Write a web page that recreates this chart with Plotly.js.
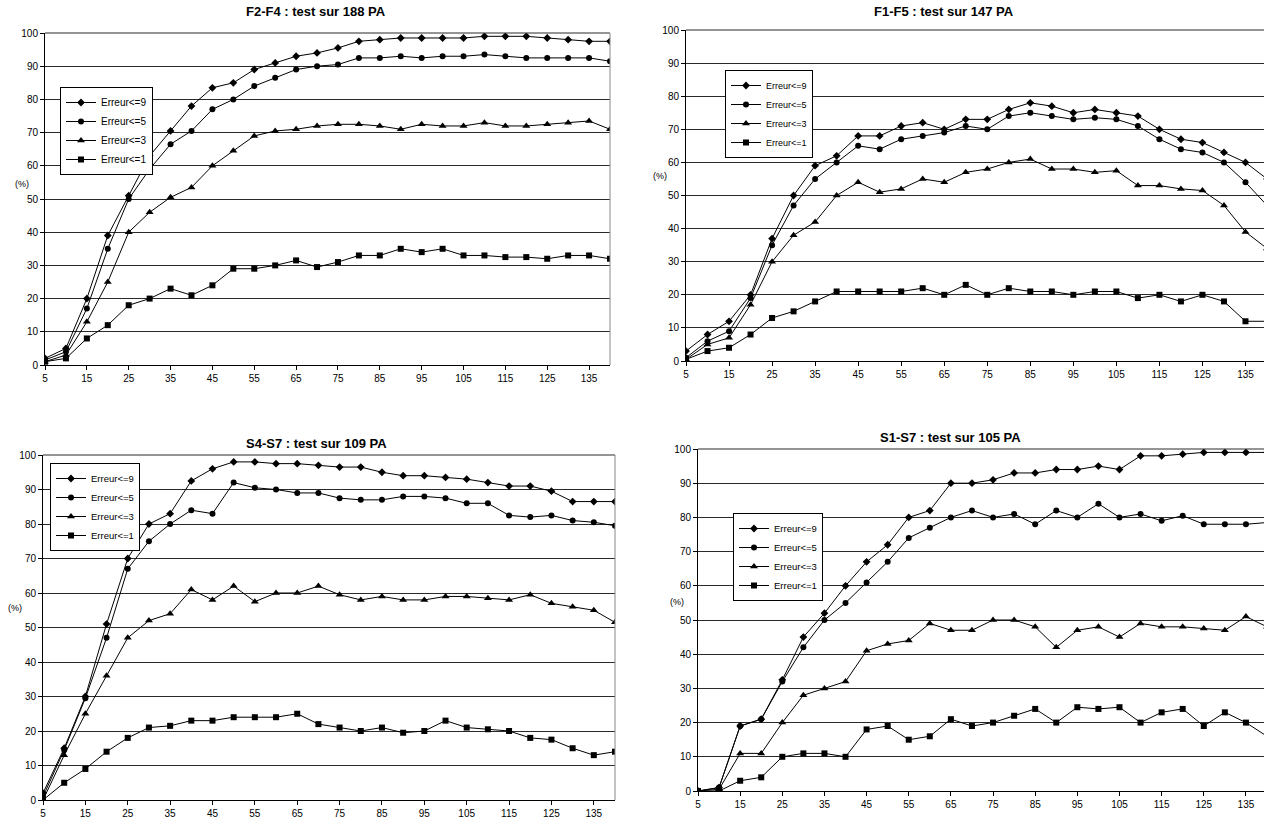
<!DOCTYPE html>
<html>
<head>
<meta charset="utf-8">
<script src="https://cdn.plot.ly/plotly-3.0.1.min.js"></script>
<style>
html,body{margin:0;padding:0;background:#fff;overflow:hidden;}
#chart{width:1290px;height:825px;}
</style>
</head>
<body>
<div id="chart"></div>
<script>
// ---------- data ----------
const X = [5,10,15,20,25,30,35,40,45,50,55,60,65,70,75,80,85,90,95,100,105,110,115,120,125,130,135,140];
const tickVals = [5,15,25,35,45,55,65,75,85,95,105,115,125,135];
const seriesNames = ['Erreur<=9','Erreur<=5','Erreur<=3','Erreur<=1'];
const titles = ['F2-F4 : test sur 188 PA','F1-F5 : test sur 147 PA','S4-S7 : test sur 109 PA','S1-S7 : test sur 105 PA'];

// F2-F4
const f24_e9 = [2,5,20,39,51,63,70.5,78,83.5,85,89,91,93,94,95.5,97.5,98,98.5,98.5,98.5,98.5,99,99,99,98.5,98,97.5,97.5];
const f24_e5 = [1.5,4,17,35,50,59,66.5,70.5,77,80,84,86.5,89,90,90.5,92.5,92.5,93,92.5,93,93,93.5,93,92.5,92.5,92.5,92.5,91.5];
const f24_e3 = [1,3,13,25,40,46,50.5,53.5,60,64.5,69,70.5,71,72,72.5,72.5,72,71,72.5,72,72,73,72,72,72.5,73,73.5,71];
const f24_e1 = [1,2,8,12,18,20,23,21,24,29,29,30,31.5,29.5,31,33,33,35,34,35,33,33,32.5,32.5,32,33,33,32];
// F1-F5
const f15_e9 = [3,8,12,20,37,50,59,62,68,68,71,72,70,73,73,76,78,77,75,76,75,74,70,67,66,63,60,55];
const f15_e5 = [1,6,9,19,35,47,55,60,65,64,67,68,69,71,70,74,75,74,73,73.5,73,71,67,64,63,60,54,47];
const f15_e3 = [0.5,5,7,17,30,38,42,50,54,51,52,55,54,57,58,60,61,58,58,57,57.5,53,53,52,51.5,47,39,34];
const f15_e1 = [0.5,3,4,8,13,15,18,21,21,21,21,22,20,23,20,22,21,21,20,21,21,19,20,18,20,18,12,12];
// S4-S7
const s47_e9 = [2,15,30,51,70,80,83,92.5,96,98,98,97.5,97.5,97,96.5,96.5,95,94,94,93.5,93,92,91,91,89.5,86.5,86.5,86.5];
const s47_e5 = [1,14.5,29.5,47,67,75,80,84,83,92,90.5,90,89,89,87.5,87,87,88,88,87.5,86,86,82.5,82,82.5,81,80.5,79.5];
const s47_e3 = [0,13,25,36,47,52,54,61,58,62,57.5,60,60,62,59.5,58,59,58,58,59,59,58.5,58,59.5,57,56,55,51.5];
const s47_e1 = [0,5,9,14,18,21,21.5,23,23,24,24,24,25,22,21,20,21,19.5,20,23,21,20.5,20,18,17.5,15,13,14];
// S1-S7
const s17_e9 = [0,1,19,21,32.5,45,52,60,67,72,80,82,90,90,91,93,93,94,94,95,94,98,98,98.5,99,99,99,99];
const s17_e5 = [0,1,19,21,32,42,50,55,61,67,74,77,80,82,80,81,78,82,80,84,80,81,79,80.5,78,78,78,78.5];
const s17_e3 = [0,0.5,11,11,20,28,30,32,41,43,44,49,47,47,50,50,48,42,47,48,45,49,48,48,47.5,47,51,48];
const s17_e1 = [0,0,3,4,10,11,11,10,18,19,15,16,21,19,20,22,24,20,24.5,24,24.5,20,23,24,19,23,20,16];

const panels = [
  [f24_e9,f24_e5,f24_e3,f24_e1],
  [f15_e9,f15_e5,f15_e3,f15_e1],
  [s47_e9,s47_e5,s47_e3,s47_e1],
  [s17_e9,s17_e5,s17_e3,s17_e1]
];

// ---------- layout geometry (pixels) ----------
const W = 1290, H = 825;
const boxes = [
  {l:45,  r:610,  t:33,  b:365, tx:316, ty:12,  px:22,  py:184, lx:60,  ly:87,  fs:10},
  {l:686, r:1267, t:30,  b:361, tx:944, ty:12,  px:660, py:176, lx:725, ly:70,  fs:9},
  {l:43,  r:615,  t:455, b:800, tx:316, ty:443, px:15,  py:608, lx:50,  ly:463, fs:9.5},
  {l:698, r:1267, t:449, b:791, tx:951, ty:437, px:677, py:602, lx:733, ly:513, fs:9.5}
];
const symbols = ['diamond','circle','triangle-up','square'];
const msizes = [6,6,7,6];

const fx = p => p / W;
const fy = p => 1 - p / H;

const data = [];
const layout = {
  width: W, height: H,
  margin: {l:0,r:0,t:0,b:0},
  paper_bgcolor: '#fff', plot_bgcolor: '#fff',
  font: {family: 'Liberation Sans, Arial, sans-serif', color: '#000', size: 10},
  hovermode: false,
  annotations: [],
  shapes: []
};

panels.forEach((series, i) => {
  const b = boxes[i];
  const n = i === 0 ? '' : String(i + 1);
  const legName = i === 0 ? 'legend' : 'legend' + (i + 1);
  series.forEach((ys, k) => {
    data.push({
      type: 'scatter', mode: 'lines+markers',
      x: X, y: ys, name: seriesNames[k],
      xaxis: 'x' + n, yaxis: 'y' + n,
      legend: legName,
      line: {color: '#000', width: 1},
      marker: {symbol: symbols[k], size: msizes[k], color: '#000'},
      cliponaxis: true
    });
  });
  layout['xaxis' + n] = {
    domain: [fx(b.l), fx(b.r)],
    anchor: 'y' + n,
    range: [5, 140],
    tickmode: 'array', tickvals: tickVals, ticktext: tickVals.map(String),
    ticks: 'outside', ticklen: 4, tickcolor: '#000',
    showgrid: false, zeroline: false,
    showline: true, linecolor: '#000', linewidth: 1,
    tickfont: {size: 10, color: '#000'},
    fixedrange: true
  };
  layout['yaxis' + n] = {
    domain: [fy(b.b), fy(b.t)],
    anchor: 'x' + n,
    range: [0, 100], dtick: 10, tick0: 0,
    ticks: 'outside', ticklen: 4, tickcolor: '#000',
    showgrid: true, gridcolor: '#2a2a2a', gridwidth: 1,
    zeroline: false,
    showline: true, linecolor: '#000', linewidth: 1,
    tickfont: {size: 10, color: '#000'},
    fixedrange: true
  };
  layout[legName] = {
    x: fx(b.lx), y: fy(b.ly), xanchor: 'left', yanchor: 'top',
    xref: 'paper', yref: 'paper',
    bgcolor: '#fff', bordercolor: '#000', borderwidth: 1,
    font: {size: b.fs, color: '#000'},
    itemwidth: 30, tracegroupgap: 0
  };
  layout.annotations.push({
    text: '<b>' + titles[i] + '</b>',
    xref: 'paper', yref: 'paper', x: fx(b.tx), y: fy(b.ty),
    xanchor: 'center', yanchor: 'middle', showarrow: false,
    font: {size: 13, color: '#000'}
  });
  layout.annotations.push({
    text: '(%)',
    xref: 'paper', yref: 'paper', x: fx(b.px), y: fy(b.py),
    xanchor: 'center', yanchor: 'middle', showarrow: false,
    font: {size: 9, color: '#000'}
  });
  // top gridline at 100 and right border of the plot area
  layout.shapes.push({
    type: 'line', xref: 'x' + n + ' domain', yref: 'y' + n + ' domain',
    x0: 0, x1: 1, y0: 1, y1: 1, line: {color: '#2a2a2a', width: 1}
  });
  if (i === 0 || i === 2) {
    layout.shapes.push({
      type: 'line', xref: 'x' + n + ' domain', yref: 'y' + n + ' domain',
      x0: 1, x1: 1, y0: 0, y1: 1, line: {color: '#888', width: 1}
    });
  }
});

Plotly.newPlot('chart', data, layout, {staticPlot: true, displayModeBar: false});
</script>
</body>
</html>
